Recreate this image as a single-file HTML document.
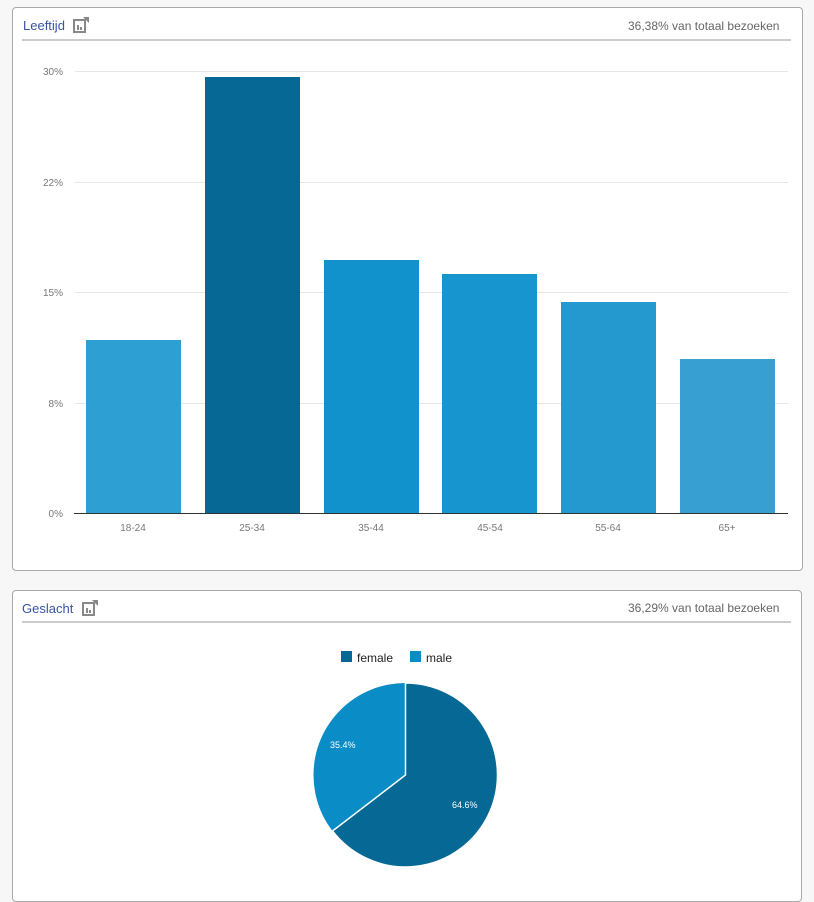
<!DOCTYPE html>
<html><head><style>
body{margin:0;width:814px;height:884px;background:#f7f7f7;font-family:"Liberation Sans",Arial,sans-serif;overflow:hidden;position:relative}
.panel{position:absolute;background:#fff;border:1px solid #a8a8a8;border-radius:4px}
.t{position:absolute;font-size:13px;color:#3653a6}
.r{position:absolute;font-size:12px;color:#666}
.hl{position:absolute;height:2px;background:#ccc}
</style></head><body>
<div class="panel" style="left:12px;top:7px;width:789px;height:562px"></div>
<div class="panel" style="left:12px;top:590px;width:788px;height:310px"></div>
<div class="t" style="left:23px;top:18px">Leeftijd</div>
<div class="r" style="left:628px;top:19px">36,38% van totaal bezoeken</div>
<div class="hl" style="left:22px;top:39px;width:769px"></div>
<div class="t" style="left:22px;top:601px">Geslacht</div>
<div class="r" style="left:628px;top:601px">36,29% van totaal bezoeken</div>
<div class="hl" style="left:22px;top:621px;width:769px"></div>
<svg width="814" height="884" style="position:absolute;left:0;top:0">
<g fill="#fff" stroke="#888" stroke-width="2">
<rect x="74" y="20" width="11" height="12"/><rect x="83" y="603" width="11" height="12"/>
</g>
<g fill="#888"><rect x="77" y="25" width="2" height="5"/><rect x="80" y="27" width="2" height="3"/><rect x="86" y="608" width="2" height="5"/><rect x="89" y="610" width="2" height="3"/>
<path d="M83 17 L89 17 L89 23 Z"/><path d="M92 600 L98 600 L98 606 Z"/></g>
<g stroke="#e6e6e6"><line x1="75" x2="788" y1="71.5" y2="71.5"/><line x1="75" x2="788" y1="182.5" y2="182.5"/><line x1="75" x2="788" y1="292.5" y2="292.5"/><line x1="75" x2="788" y1="403.5" y2="403.5"/></g>
<g font-size="10" fill="#777" text-anchor="end"><text x="63" y="75">30%</text><text x="63" y="186">22%</text><text x="63" y="296">15%</text><text x="63" y="407">8%</text><text x="63" y="517">0%</text></g>
<rect x="86" y="340" width="95" height="173" fill="#2e9fd2"/>
<rect x="205" y="77" width="95" height="436" fill="#066894"/>
<rect x="324" y="260" width="95" height="253" fill="#1192cc"/>
<rect x="442" y="274" width="95" height="239" fill="#1795ce"/>
<rect x="561" y="302" width="95" height="211" fill="#2399d0"/>
<rect x="680" y="359" width="95" height="154" fill="#379fd1"/>
<line x1="74" x2="788" y1="513.5" y2="513.5" stroke="#333"/>
<g font-size="10" fill="#777" text-anchor="middle"><text x="133" y="531">18-24</text><text x="252" y="531">25-34</text><text x="371" y="531">35-44</text><text x="490" y="531">45-54</text><text x="608" y="531">55-64</text><text x="727" y="531">65+</text></g>
<rect x="341" y="651" width="11" height="11" fill="#066894"/><text x="357" y="662" font-size="12" fill="#222">female</text>
<rect x="410" y="651" width="11" height="11" fill="#0a8cc6"/><text x="426" y="662" font-size="12" fill="#222">male</text>
<circle cx="405.5" cy="775" r="92" fill="#0a8cc6"/>
<path d="M405.5 775 L405.5 683 A92 92 0 1 1 332.5 831 Z" fill="#066894" stroke="#fff" stroke-width="1.5"/>
<g font-size="9" fill="#fff"><text x="330" y="748">35.4%</text><text x="452" y="808">64.6%</text></g>
</svg>
</body></html>
